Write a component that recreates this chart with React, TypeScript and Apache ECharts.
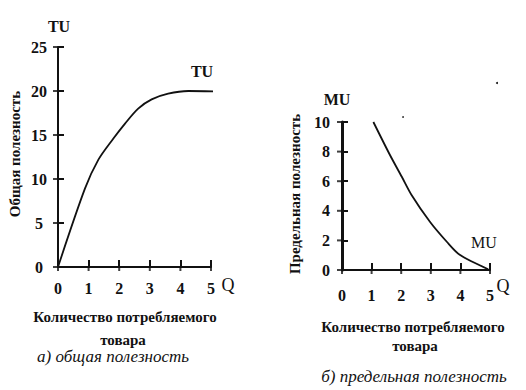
import React, { useEffect, useRef } from "react";
import * as echarts from "echarts";

const tuQ = [0, 0.88, 1.32, 1.81, 2.19, 2.62, 3.06, 3.6, 4.26, 5.1];
const tuVal = [0, 8.9, 12.2, 14.6, 16.3, 18.0, 19.05, 19.7, 20, 19.95];
const muQ = [1.06, 1.62, 2.02, 2.35, 2.97, 3.54, 3.99, 4.94];
const muVal = [10, 7.77, 6.3, 5.07, 3.26, 1.91, 1.01, 0.05];

const qTicks = [0, 1, 2, 3, 4, 5];
const tuTicks = [0, 5, 10, 15, 20, 25];
const muTicks = [0, 2, 4, 6, 8, 10];

const FONT = "'Liberation Serif', 'Times New Roman', serif";
const INK = "#111";

const GRIDS = [
  { left: 58, top: 47, width: 153, height: 220 },
  { left: 342, top: 122, width: 148, height: 148 },
];

export default function App() {
  const ref = useRef<HTMLDivElement>(null);
  useEffect(() => {
    if (!ref.current) return;
    const chart = echarts.init(ref.current, undefined, { renderer: "svg" });
    const label = { fontFamily: FONT, fontWeight: "bold" as const, fontSize: 16, color: INK };
    const mkX = (grid: number, margin: number) => ({
      type: "value",
      gridIndex: grid,
      position: "bottom",
      min: qTicks[0],
      max: qTicks[qTicks.length - 1],
      interval: 1,
      splitLine: { show: false },
      axisLine: { show: true, onZero: false, lineStyle: { color: INK, width: 2 } },
      axisTick: { show: true, inside: true, length: 7, lineStyle: { color: INK, width: 2 } },
      axisLabel: { show: true, margin, ...label },
    });
    const mkY = (grid: number, ticks: number[], margin: number, align: string, lw: number) => ({
      type: "value",
      gridIndex: grid,
      position: "left",
      min: ticks[0],
      max: ticks[ticks.length - 1],
      interval: ticks[1] - ticks[0],
      splitLine: { show: false },
      axisLine: { show: true, onZero: false, lineStyle: { color: INK, width: lw } },
      axisTick: { show: true, inside: true, length: 6, lineStyle: { color: INK, width: 2 } },
      axisLabel: { show: true, margin, align, ...label },
    });
    const txt = (x: number, y: number, text: string, size: number, extra: any = {}) => ({
      type: "text",
      x,
      y,
      rotation: extra.rotation || 0,
      style: {
        text,
        x: 0,
        y: 0,
        align: "center",
        verticalAlign: "middle",
        fontFamily: FONT,
        fontSize: size,
        fontWeight: extra.fontWeight || "bold",
        fontStyle: extra.fontStyle || "normal",
        fill: INK,
      },
    });
    // outward stubs of the crossing tick marks, placed through the axes' scales
    const xTickStubs = (axis: number) => ({
      type: "scatter",
      xAxisIndex: axis,
      yAxisIndex: axis,
      data: qTicks.map((q) => [q, 0]),
      symbol: "rect",
      symbolSize: [2, 4],
      symbolOffset: [0, 2],
      clip: false,
      silent: true,
      itemStyle: { color: INK },
      z: 5,
    });
    const yTickStubs = (axis: number, ticks: number[]) => ({
      type: "scatter",
      xAxisIndex: axis,
      yAxisIndex: axis,
      data: ticks.map((v) => [0, v]),
      symbol: "rect",
      symbolSize: [5, 2],
      symbolOffset: [-2.5, 0],
      clip: false,
      silent: true,
      itemStyle: { color: INK },
      z: 5,
    });
    chart.setOption({
      animation: false,
      backgroundColor: "#fff",
      grid: GRIDS,
      xAxis: [mkX(0, 13), mkX(1, 17)],
      yAxis: [mkY(0, tuTicks, 19, "center", 2), mkY(1, muTicks, 12, "right", 3)],
      series: [
        {
          type: "line",
          xAxisIndex: 0,
          yAxisIndex: 0,
          data: tuQ.map((q, i) => [q, tuVal[i]]),
          smooth: 0.3,
          symbol: "none",
          clip: false,
          lineStyle: { color: INK, width: 1.8 },
        },
        {
          type: "line",
          xAxisIndex: 1,
          yAxisIndex: 1,
          data: muQ.map((q, i) => [q, muVal[i]]),
          smooth: 0.3,
          symbol: "none",
          clip: false,
          lineStyle: { color: INK, width: 1.8 },
        },
        xTickStubs(0),
        yTickStubs(0, tuTicks),
        xTickStubs(1),
        yTickStubs(1, muTicks),
      ],
      graphic: [
        txt(59, 26, "TU", 16),
        txt(202, 71, "TU", 16),
        txt(228, 285, "Q", 18, { fontWeight: "normal" }),
        txt(15, 154, "Общая полезность", 15, { rotation: Math.PI / 2 }),
        txt(125, 317, "Количество потребляемого", 15),
        txt(123, 340, "товара", 15),
        txt(113, 356, "а) общая полезность", 17, { fontStyle: "italic", fontWeight: "normal" }),
        txt(337, 99, "MU", 16),
        txt(484, 242, "MU", 16, { fontWeight: "normal" }),
        txt(503, 286, "Q", 18, { fontWeight: "normal" }),
        txt(295, 194, "Предельная полезность", 15, { rotation: Math.PI / 2 }),
        txt(413, 327, "Количество потребляемого", 15),
        txt(415, 346, "товара", 15),
        txt(414, 376, "б) предельная полезность", 17, { fontStyle: "italic", fontWeight: "normal" }),
        { type: "circle", shape: { cx: 497, cy: 83, r: 1 }, style: { fill: INK } },
        { type: "circle", shape: { cx: 403, cy: 117, r: 0.8 }, style: { fill: INK } },
      ],
    });
    return () => chart.dispose();
  }, []);
  return (
    <div
      ref={ref}
      style={{ position: "fixed", left: 0, top: 0, width: 526, height: 390, background: "#fff" }}
    />
  );
}
